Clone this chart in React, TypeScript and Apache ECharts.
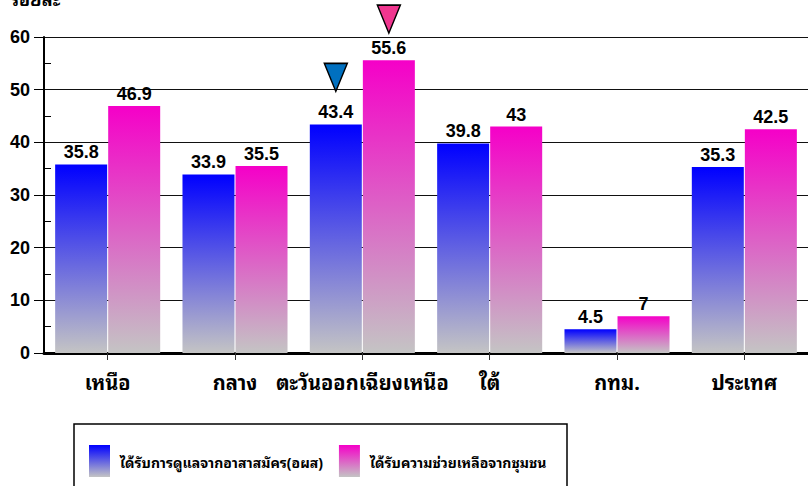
import React, { useEffect, useRef } from "react";
import * as echarts from "echarts";

const categories = ["เหนือ", "กลาง", "ตะวันออกเฉียงเหนือ", "ใต้", "กทม.", "ประเทศ"];
const volunteerCare = [35.8, 33.9, 43.4, 39.8, 4.5, 35.3];
const communityHelp = [46.9, 35.5, 55.6, 43, 7, 42.5];
const seriesNames = ["ได้รับการดูแลจากอาสาสมัคร(อผส)", "ได้รับความช่วยเหลือจากชุมชน"];
const yTicks = [0, 10, 20, 30, 40, 50, 60];
const yTitle = "ร้อยละ";

const thaiFont = "'Noto Sans Thai Looped', 'Norasi', 'Noto Sans Thai', 'Loma', serif";
const numFont = "'Liberation Sans', Arial, sans-serif";

function grad(top: string, bottom: string) {
  return new echarts.graphic.LinearGradient(0, 0, 0, 1, [
    { offset: 0, color: top },
    { offset: 1, color: bottom },
  ]);
}

export default function App() {
  const ref = useRef<HTMLDivElement>(null);
  useEffect(() => {
    if (!ref.current) return;
    const chart = echarts.init(ref.current, undefined, { renderer: "svg" });
    const labelStyle = {
      show: true,
      position: "top" as const,
      distance: 3,
      color: "#000",
      fontWeight: "bold" as const,
      fontSize: 18,
      fontFamily: numFont,
    };
    chart.setOption({
      animation: false,
      backgroundColor: "#fff",
      grid: { left: 44, top: 37, width: 769, height: 316, containLabel: false },
      legend: {
        left: 84,
        top: 440,
        itemWidth: 21,
        itemHeight: 32,
        itemGap: 16,
        icon: "rect",
        textStyle: {
          fontFamily: thaiFont,
          fontSize: 14,
          fontWeight: "bold",
          color: "#000",
          padding: [0, 0, 0, 5],
        },
        data: seriesNames,
      },
      graphic: [
        {
          type: "rect",
          shape: { x: 74, y: 424, width: 493, height: 80 },
          style: { fill: "none", stroke: "#000", lineWidth: 1.5 },
          z: -1,
        },
        {
          type: "text",
          x: 10,
          y: -11,
          style: {
            text: yTitle,
            fontFamily: thaiFont,
            fontSize: 18,
            fontWeight: "bold",
            fill: "#000",
          },
        },
      ],
      xAxis: {
        type: "category",
        data: categories,
        axisLine: { show: true, lineStyle: { color: "#000", width: 3 } },
        axisTick: { show: true, alignWithLabel: true, length: 7, lineStyle: { color: "#333", width: 1 } },
        axisLabel: {
          color: "#000",
          fontFamily: thaiFont,
          fontSize: 20,
          fontWeight: "bold",
          margin: 18,
          interval: 0,
        },
      },
      yAxis: {
        type: "value",
        min: yTicks[0],
        max: yTicks[yTicks.length - 1],
        interval: 10,
        axisLine: { show: true, lineStyle: { color: "#000", width: 2 } },
        axisTick: { show: true, length: 10, lineStyle: { color: "#000" } },
        minorTick: { show: true, splitNumber: 2, length: -7, lineStyle: { color: "#000" } },
        axisLabel: {
          color: "#000",
          fontFamily: numFont,
          fontSize: 18,
          fontWeight: "bold",
          margin: 14,
        },
        splitLine: { show: true, lineStyle: { color: "#111", width: 1 } },
      },
      series: [
        {
          name: seriesNames[0],
          type: "bar",
          data: volunteerCare,
          barWidth: 52,
          barGap: "2%",
          itemStyle: { color: grad("#0000ff", "#c4c4c4") },
          label: labelStyle,
          markPoint: {
            data: [{ type: "max" }],
            symbol: "triangle",
            symbolRotate: 180,
            symbolSize: [23, 28],
            symbolOffset: [0, -47],
            itemStyle: { color: "#0070c0", borderColor: "#000", borderWidth: 1.5 },
            label: { show: false },
          },
        },
        {
          name: seriesNames[1],
          type: "bar",
          data: communityHelp,
          barWidth: 52,
          itemStyle: { color: grad("#f500c8", "#c4c4c4") },
          label: labelStyle,
          markPoint: {
            data: [{ type: "max" }],
            symbol: "triangle",
            symbolRotate: 180,
            symbolSize: [23, 28],
            symbolOffset: [0, -41],
            itemStyle: { color: "#f0368f", borderColor: "#000", borderWidth: 1.5 },
            label: { show: false },
          },
        },
      ],
    });
    return () => chart.dispose();
  }, []);
  return (
    <div
      ref={ref}
      style={{ position: "absolute", left: 0, top: 0, width: 808, height: 486 }}
    />
  );
}
